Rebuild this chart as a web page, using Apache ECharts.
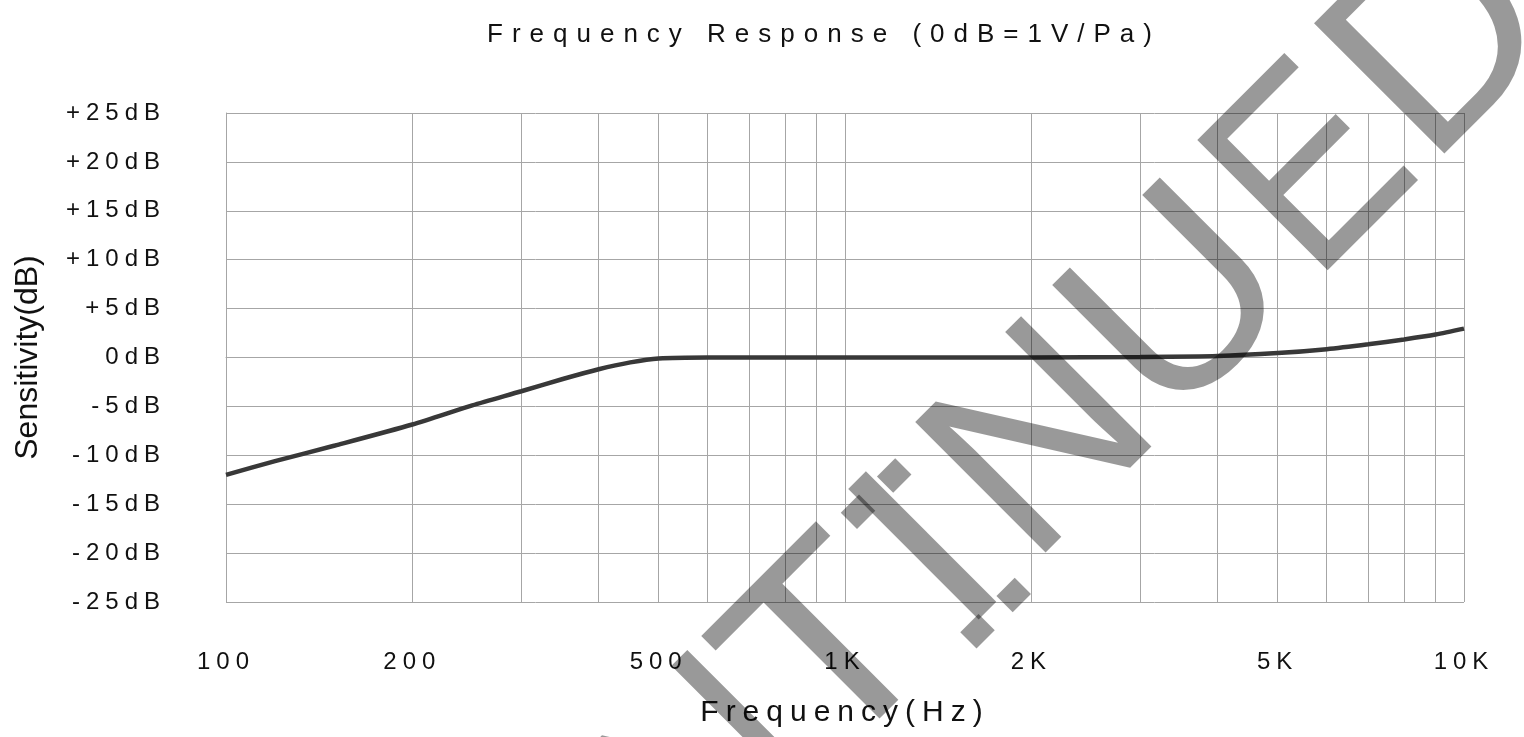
<!DOCTYPE html>
<html>
<head>
<meta charset="utf-8">
<script src="https://cdn.jsdelivr.net/npm/echarts@6/dist/echarts.min.js"></script>
<style>
html,body{margin:0;padding:0;background:#ffffff;}
#chart{width:1524px;height:737px;}
</style>
</head>
<body>
<div id="chart"></div>
<script>
// ---- data ----
const freqHz = [100, 120, 150, 200, 250, 300, 350, 400, 450, 500, 600, 800, 1000, 1500, 2000, 3000, 4000, 5000, 6000, 7000, 8000, 9000, 10000];
const sensitivityDb = [-12.0, -10.6, -9.0, -6.85, -4.9, -3.45, -2.2, -1.2, -0.5, -0.1, 0, 0, 0, 0, 0, 0.05, 0.15, 0.45, 0.85, 1.35, 1.85, 2.35, 2.95];
const gridFreqs = [100, 200, 300, 400, 500, 600, 700, 800, 900, 1000, 2000, 3000, 4000, 5000, 6000, 7000, 8000, 9000, 10000];
const xTickValues = [100, 200, 500, 1000, 2000, 5000, 10000];
const xTickLabels = ['100', '200', '500', '1K', '2K', '5K', '10K'];
const yTickValues = [-25, -20, -15, -10, -5, 0, 5, 10, 15, 20, 25];
const titleText = 'Frequency Response (0dB=1V/Pa)';
const xAxisName = 'Frequency(Hz)';
const yAxisName = 'Sensitivity(dB)';
const watermarkText = 'DISCONTINUED';

// letter spacing for marked fonts (family "spcN" => N px spacing)
(function () {
  const P = CanvasRenderingContext2D.prototype;
  const orig = P.fillText;
  P.fillText = function (t, x, y, m) {
    const mm = /spc(\d+)/.exec(this.font || '');
    const call = () => (m === undefined ? orig.call(this, t, x, y) : orig.call(this, t, x, y, m));
    if (mm && ('letterSpacing' in this)) {
      const prev = this.letterSpacing;
      this.letterSpacing = mm[1] + 'px';
      const r = call();
      this.letterSpacing = prev;
      return r;
    }
    return call();
  };
})();

const chart = echarts.init(document.getElementById('chart'), null, { renderer: 'canvas' });

const gridColor = '#a6a6a6';
const wmFill = 'rgba(0,0,0,0.4)';
const wmOffsets = [-936, -778, -625, -437, -241, -45, 131, 270, 427, 622, 810, 991];
const wmScaleX = { T: 1.07, E: 0.88 };

const wmChildren = [];
watermarkText.split('').forEach((ch, i) => {
  if (ch === 'I') {
    // serif bars of the "I", split so they do not overlap the stem
    const o = wmOffsets[i];
    const stemL = o - 12.25, stemR = o + 13.15, barL = o - 38.05, barR = o + 38.95;
    [-192, -23].forEach((yy, k) => {
      wmChildren.push({
        type: 'rect', id: 'wmbarL' + i + '_' + k, z: 100,
        shape: { x: barL, y: yy, width: stemL - barL, height: 23 },
        style: { fill: wmFill }
      });
      wmChildren.push({
        type: 'rect', id: 'wmbarR' + i + '_' + k, z: 100,
        shape: { x: stemR, y: yy, width: barR - stemR, height: 23 },
        style: { fill: wmFill }
      });
    });
  }
  wmChildren.push({
    type: 'text',
    id: 'wmch' + i,
    x: wmOffsets[i],
    y: -93,
    scaleX: wmScaleX[ch] || 1,
    z: 100,
    style: {
      text: ch,
      font: '268px "Liberation Sans"',
      fill: wmFill,
      align: 'center',
      textAlign: 'center',
      verticalAlign: 'middle',
      textVerticalAlign: 'middle'
    }
  });
});

const option = {
  backgroundColor: '#ffffff',
  animation: false,
  title: {
    text: titleText,
    left: 819,
    top: 17,
    textAlign: 'center',
    textStyle: { fontFamily: 'Liberation Sans, spc9', fontSize: 26, fontWeight: 'normal', color: '#111' }
  },
  grid: { left: 226, right: 60, top: 113, bottom: 135 },
  xAxis: {
    type: 'log',
    logBase: 10,
    min: 100,
    max: 10000,
    name: xAxisName,
    nameLocation: 'middle',
    nameGap: 96,
    nameTextStyle: { fontFamily: 'Liberation Sans, spc7', fontSize: 30, color: '#111' },
    axisLine: { show: true, lineStyle: { color: gridColor, width: 1 } },
    axisTick: { show: false },
    splitLine: { show: false },
    minorTick: { show: false },
    axisLabel: {
      customValues: xTickValues,
      margin: 48,
      fontFamily: 'Liberation Sans, spc6',
      fontSize: 24,
      color: '#111',
      formatter: function (v) {
        const i = xTickValues.findIndex(t => Math.abs(t - v) / t < 1e-6);
        return i >= 0 ? xTickLabels[i] : '';
      }
    }
  },
  yAxis: {
    type: 'value',
    min: -25,
    max: 25,
    interval: 5,
    name: yAxisName,
    nameLocation: 'middle',
    nameRotate: 90,
    nameGap: 182,
    nameTextStyle: { fontFamily: 'Liberation Sans', fontSize: 32, color: '#111' },
    axisLine: { show: true, lineStyle: { color: gridColor, width: 1 } },
    axisTick: { show: false },
    splitLine: { show: true, lineStyle: { color: gridColor, width: 1, type: 'solid' } },
    axisLabel: {
      margin: 60,
      fontFamily: 'Liberation Sans, spc6',
      fontSize: 24,
      color: '#111',
      formatter: function (v) {
        return (v > 0 ? '+' : '') + v + 'dB';
      }
    }
  },
  series: [
    {
      type: 'line',
      name: 'grid',
      data: [],
      silent: true,
      markLine: {
        silent: true,
        animation: false,
        symbol: ['none', 'none'],
        label: { show: false },
        emphasis: { disabled: true },
        lineStyle: { color: gridColor, width: 1, type: 'solid' },
        data: gridFreqs.map(f => ({ xAxis: f }))
      }
    },
    {
      type: 'line',
      name: 'Sensitivity',
      data: freqHz.map((f, i) => [f, sensitivityDb[i]]),
      showSymbol: false,
      symbol: 'none',
      smooth: 0.25,
      lineStyle: { color: '#383838', width: 4.5 },
      z: 5
    }
  ],
  graphic: [
    {
      type: 'group',
      id: 'watermark',
      x: 812.5,
      y: 812.5,
      rotation: Math.PI / 4,
      z: 100,
      silent: true,
      children: wmChildren
    }
  ]
};

chart.setOption(option);
</script>
</body>
</html>
